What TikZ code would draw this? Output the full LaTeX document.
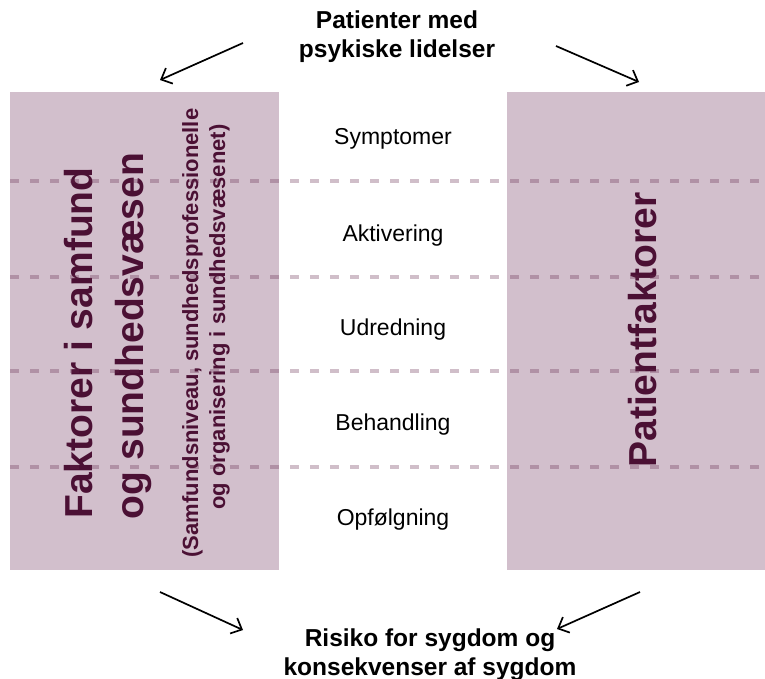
\documentclass[tikz,border=0pt]{standalone}
\usepackage{fontspec}
\setmainfont{Liberation Sans}
\usetikzlibrary{arrows.meta}

\definecolor{boksfarve}{RGB}{210,191,204}
\definecolor{bokstekst}{RGB}{75,16,52}
\definecolor{stregfarve}{RGB}{100,40,75}

\tikzset{
    fase/.style={font=\fontsize{23}{27}\selectfont, anchor=base},
    faktor/.style={font=\fontsize{39}{47}\selectfont\bfseries, text=bokstekst, rotate=90, anchor=base},
    undertekst/.style={font=\fontsize{22}{26}\selectfont\bfseries, text=bokstekst, rotate=90, anchor=base},
    titel/.style={font=\fontsize{24.5}{29}\selectfont\bfseries, align=center},
    pil/.style={-{Straight Barb[length=9pt,width=17pt]}, line width=1.7pt},
    skillelinje/.style={stregfarve, opacity=0.3, line width=4pt, dash pattern=on 9pt off 11pt}
}

\begin{document}
\begin{tikzpicture}[x=1pt, y=-1pt]
        \useasboundingbox (0,0) rectangle (765,679);

        % ~~~~ Kasser for faktorerne ~~~~%
        \fill[boksfarve] (10,92) rectangle (279,570);
        \fill[boksfarve] (507,92) rectangle (765,570);

        % ~~~~ Tekst i kasserne ~~~~%
        \node[faktor] (samfund) at (92,343) {Faktorer i samfund};
        \node[faktor] (sundhed) at (143,336) {og sundhedsvæsen};
        \node[undertekst] (niveau) at (198,333) {(Samfundsniveau, sundhedsprofessionelle};
        \node[undertekst] (organisering) at (225,317) {og organisering i sundhedsvæsenet)};
        \node[faktor] (patientfaktorer) at (656,330) {Patientfaktorer};

        % ~~~~ Faserne i midten ~~~~%
        \foreach \navn/\y [count=\i] in {Symptomer/145, Aktivering/241, Udredning/335, Behandling/430, Opfølgning/525}
            \node[fase] (fase\i) at (393,\y) {\navn};

        % ~~~~ Stiplede skillelinjer ~~~~%
        \foreach \y in {181,277,371,467}
            \draw[skillelinje] (10,\y) -- (765,\y);

        % ~~~~ Overskrift og konklusion ~~~~%
        \node[titel] (patienter) at (397,37) {Patienter med\\psykiske lidelser};
        \node[titel] (risiko) at (430,655) {Risiko for sygdom og\\konsekvenser af sygdom};

        % ~~~~ Pile ~~~~%
        \coordinate (venstreop) at (243,43);
        \coordinate (venstreopspids) at (160,80);
        \coordinate (hoejreop) at (556,46);
        \coordinate (hoejreopspids) at (639,82);
        \coordinate (venstrened) at (160,592);
        \coordinate (venstrenedspids) at (243,630);
        \coordinate (hoejrened) at (640,592);
        \coordinate (hoejrenedspids) at (557,629);
        \draw[pil] (venstreop) -- (venstreopspids);
        \draw[pil] (hoejreop) -- (hoejreopspids);
        \draw[pil] (venstrened) -- (venstrenedspids);
        \draw[pil] (hoejrened) -- (hoejrenedspids);
    \end{tikzpicture}
\end{document}
